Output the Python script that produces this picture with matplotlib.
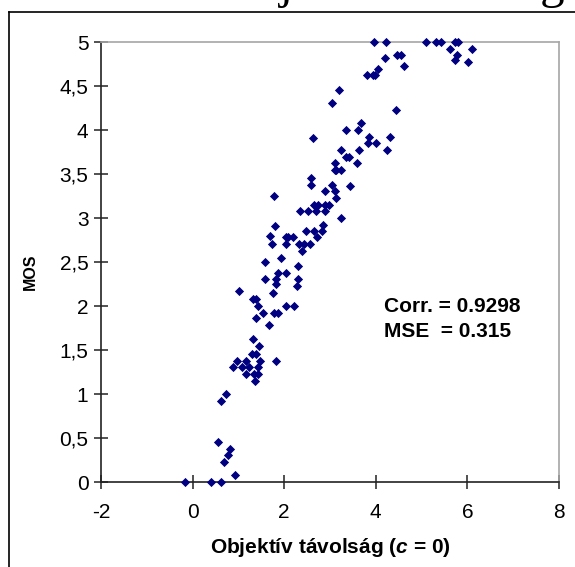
import matplotlib
matplotlib.use("Agg")
import matplotlib.pyplot as plt
from matplotlib.lines import Line2D

# ---- data ----------------------------------------------------------------
objective = [
    -0.17, 0.41, 0.62, 0.92, 0.68, 0.77, 0.82, 0.56, 0.62, 0.73,
    0.88, 0.98, 1.07, 1.17, 1.17, 1.23, 1.30, 1.38, 1.32, 1.35,
    1.37, 1.43, 1.43, 1.47, 1.45, 1.82,
    1.02, 1.32, 1.38, 1.43, 1.38, 1.54, 1.67, 1.78, 1.86, 1.75,
    1.82, 1.82, 1.86, 1.58, 1.57, 1.93, 2.04, 2.04, 2.21, 2.30,
    2.30, 2.28,
    1.73, 2.04, 2.32, 2.43, 2.56, 2.38, 1.68, 2.03, 2.08, 2.19,
    2.71, 1.80, 2.47, 2.64, 2.82, 2.84, 1.78,
    2.35, 2.51, 2.69, 2.88, 2.64, 2.73, 2.88, 2.97, 3.25,
    2.88, 3.12, 3.14, 2.58, 2.58, 3.04, 3.43,
    3.10, 3.14, 3.23, 3.12, 3.58, 3.34, 3.42, 3.23, 3.64, 4.25,
    3.82, 4.01, 2.62, 3.86, 4.30, 3.36, 3.62, 3.67,
    4.45, 3.04, 3.20,
    3.80, 3.93, 3.99, 4.04, 4.62, 4.21, 4.46, 4.54,
    3.97, 4.23, 5.09, 5.31, 5.43, 5.74, 5.80,
    5.62, 6.09, 5.77, 5.73, 6.01,
]
mos = [
    0.00, 0.00, 0.00, 0.08, 0.23, 0.31, 0.38, 0.46, 0.92, 1.00,
    1.31, 1.38, 1.31, 1.23, 1.38, 1.31, 1.46, 1.46, 1.62, 1.23,
    1.15, 1.23, 1.31, 1.38, 1.55, 1.38,
    2.17, 2.08, 2.08, 2.00, 1.86, 1.92, 1.78, 1.92, 1.92, 2.15,
    2.25, 2.31, 2.38, 2.50, 2.31, 2.55, 2.38, 2.00, 2.00, 2.46,
    2.31, 2.23,
    2.70, 2.70, 2.70, 2.70, 2.70, 2.62, 2.80, 2.78, 2.78, 2.78,
    2.78, 2.91, 2.85, 2.85, 2.85, 2.92, 3.25,
    3.08, 3.08, 3.08, 3.08, 3.15, 3.15, 3.15, 3.15, 3.00,
    3.31, 3.31, 3.23, 3.46, 3.38, 3.38, 3.36,
    3.55, 3.55, 3.55, 3.62, 3.62, 3.69, 3.69, 3.77, 3.77, 3.77,
    3.85, 3.85, 3.91, 3.92, 3.92, 4.00, 4.00, 4.08,
    4.23, 4.31, 4.45,
    4.62, 4.62, 4.62, 4.69, 4.73, 4.82, 4.85, 4.85,
    5.00, 5.00, 5.00, 5.00, 5.00, 5.00, 5.00,
    4.92, 4.92, 4.85, 4.80, 4.77,
]

x_ticks = [-2, 0, 2, 4, 6, 8]
y_ticks = [0, 0.5, 1, 1.5, 2, 2.5, 3, 3.5, 4, 4.5, 5]
y_tick_labels = ["0", "0,5", "1", "1,5", "2", "2,5", "3", "3,5", "4", "4,5", "5"]
stats_text = "Corr. = 0.9298\nMSE  = 0.315"

plt.rcParams["font.family"] = ["Liberation Sans", "DejaVu Sans"]
plt.rcParams["mathtext.fontset"] = "custom"
plt.rcParams["mathtext.bfit"] = "Liberation Sans:bold:italic"

fig = plt.figure(figsize=(5.75, 5.67), dpi=100)
W, H = 575.0, 567.0

# axes area in pixel terms: x 101..559, y 42..482
ax = fig.add_axes([101 / W, 1 - 482 / H, (559 - 101) / W, (482 - 42) / H])

ax.scatter(objective, mos, marker="D", s=22, color="#000080",
           linewidths=0, zorder=3, clip_on=False)

ax.set_xlim(-2, 8)
ax.set_ylim(0, 5)
ax.set_xticks(x_ticks)
ax.set_xticklabels([str(t) for t in x_ticks])
ax.set_yticks(y_ticks)
ax.set_yticklabels(y_tick_labels)

ax.tick_params(axis="both", direction="inout", length=10, width=1.2,
               color="#333333", labelsize=15)
ax.tick_params(axis="x", pad=10)
ax.tick_params(axis="y", pad=4)

for side in ("left", "bottom"):
    ax.spines[side].set_color("#222222")
    ax.spines[side].set_linewidth(1.2)
for side in ("top", "right"):
    ax.spines[side].set_color("#a6a6a6")
    ax.spines[side].set_linewidth(1.2)

ax.set_xlabel(r"Objektív távolság ($\mathbfit{c}$ = 0)", fontsize=15,
              fontweight="bold", labelpad=10)
ax.set_ylabel("MOS", fontsize=11.5, fontweight="bold", va="center")
ax.yaxis.set_label_coords(-0.155, 0.477)

ax.text(4.17, 1.85, stats_text, fontsize=15, fontweight="bold",
        ha="left", va="center", linespacing=1.4)

# outer chart frame (only the left and top edges fall inside the picture)
fig.add_artist(Line2D([8.5 / W, 8.5 / W], [0, 1 - 12 / H], color="black",
                      lw=1.2, transform=fig.transFigure))
fig.add_artist(Line2D([8.5 / W, 1], [1 - 12 / H, 1 - 12 / H], color="black",
                      lw=1.2, transform=fig.transFigure))

# descenders of the page heading above the chart, mostly cut off
fig.text(220 / W, 1 + 2 / H, "Objektív távolság", family="Liberation Serif",
         fontsize=35, ha="left", va="baseline")

fig.savefig("out.png", dpi=100)
